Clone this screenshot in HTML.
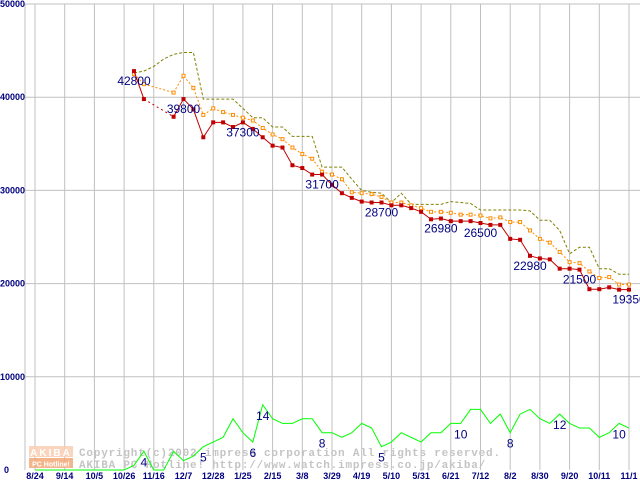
<!DOCTYPE html>
<html><head><meta charset="utf-8"><style>
html,body{margin:0;padding:0;background:#fff;}
svg{display:block;}
</style></head><body>
<svg id="chart" width="640" height="480" xmlns="http://www.w3.org/2000/svg" font-family="'Liberation Sans', sans-serif">
<g id="grid"></g>
<g id="watermark">
  <rect x="29" y="446" width="44" height="11" fill="#f9cdb0" opacity="0.85"/>
  <rect x="29" y="458" width="44" height="10" fill="#f3a878" opacity="0.85"/>
  <text x="51" y="456" text-anchor="middle" font-size="10" font-weight="bold" fill="#fff" letter-spacing="2" font-family="'Liberation Sans', sans-serif">AKIBA</text>
  <text x="51" y="466.5" text-anchor="middle" font-size="7" font-weight="bold" fill="#fff" font-family="'Liberation Sans', sans-serif">PC Hotline!</text>
  <text x="79" y="456" font-size="11" font-weight="bold" fill="#c4c4c4" letter-spacing="0.8" font-family="'Liberation Mono', monospace">Copyright(c)2002 impress corporation All rights reserved.</text>
  <text x="79" y="468" font-size="11" font-weight="bold" fill="#c4c4c4" letter-spacing="0.8" font-family="'Liberation Mono', monospace">AKIBA PC Hotline! http://www.watch.impress.co.jp/akiba/</text>
</g>
<g id="series"></g>
<g id="labels"></g>
</svg>
<script>
const xLabels = ["8/24","9/14","10/5","10/26","11/16","12/7","12/28","1/25","2/15","3/8","3/29","4/19","5/10","5/31","6/21","7/12","8/2","8/30","9/20","10/11","11/1"];
const yTicks = [0,10000,20000,30000,40000,50000];
const priceStart = 10;
const minPrice = [42800,39800,null,null,37900,39800,38700,35700,37300,37300,36800,37300,36600,35700,34800,34600,32700,32400,31700,31700,30600,29700,29200,28800,28700,28700,28400,28400,28100,27700,26900,26980,26700,26700,26700,26500,26300,26300,24800,24700,22980,22700,22600,21600,21600,21500,19400,19400,19600,19350,19350];
const avgPrice = [42500,41400,null,null,40500,42300,41000,38100,38800,38400,38100,37800,37500,36700,36000,35500,34600,33900,33400,32000,31700,31200,29800,29700,29600,29300,28700,28700,28400,28100,27700,27700,27600,27400,27400,27300,27000,27100,26600,26600,25700,24800,24400,23400,22300,22200,21300,20600,20700,19900,19900];
const maxPrice = [42600,42800,43300,44100,44600,44800,44800,39800,39800,39800,39800,38800,37800,37800,36800,36800,35800,35800,35800,32500,32500,32500,31200,30000,29800,29700,28700,29700,28500,28500,28500,28500,28800,28700,28600,27900,27900,27900,27900,27900,27800,26800,26800,25700,23200,23900,23900,21600,21600,21000,21000];
const shopCount = [0,0,0,0,0,0,0,0,0,0,1,4,0,0,4,2,3,5,6,7,11,8,6,14,11,10,10,11,11,8,8,7,8,10,9,5,6,8,7,6,8,8,10,10,13,13,10,12,8,12,13,11,10,12,10,9,9,7,8,10,9];
const priceLabelWeeks = [10,15,21,29,35,41,45,50,55,60];
const countLabelWeeks = [11,17,22,23,29,35,43,48,53,59];
const countScale = 500;

const NS = "http://www.w3.org/2000/svg";
const X0 = 35, XW = 9.9, Y0 = 470, YTOP = 4, YMAX = 50000;
function xPos(w){ return X0 + w*XW; }
function yPos(v){ return Y0 - v*(Y0-YTOP)/YMAX; }
function mk(tag, attrs, parent){
  const e = document.createElementNS(NS, tag);
  for (const k in attrs) e.setAttribute(k, attrs[k]);
  parent.appendChild(e); return e;
}
const grid = document.getElementById('grid');
const series = document.getElementById('series');
const labels = document.getElementById('labels');

yTicks.forEach(t => {
  const y = yPos(t);
  if (t > 0) {
    const l = mk('line', {x1:25, x2:640, y1:y, y2:y, stroke:'#c0c0c0', 'stroke-width':1}, grid);
    
    
  }
  const tx = mk('text', {x: t===0 ? 9 : 25, y: y+3, 'text-anchor':'end', 'font-size':9, 'font-weight':'bold', fill:'#000080'}, labels);
  tx.textContent = String(t);
  
  
});
const lb = mk('line', {x1:25, x2:25, y1:YTOP, y2:Y0, stroke:'#c0c0c0', 'stroke-width':1}, grid);


xLabels.forEach((lab, i) => {
  const x = xPos(i*3);
  const l = mk('line', {x1:x, x2:x, y1:YTOP, y2:Y0, stroke:'#c0c0c0', 'stroke-width':1}, grid);
  
  
  const tx = mk('text', {x:x, y:479, 'text-anchor':'middle', 'font-size':9, 'font-weight':'bold', fill:'#000080'}, labels);
  tx.textContent = lab;
  
  
});

function buildPath(arr, start, scale){
  const gaps = [];
  let prev = null, broken = false, d = '';
  arr.forEach((v, i) => {
    if (v === null) { broken = true; return; }
    const x = xPos(start+i), y = yPos(v*scale);
    if (prev && broken) { gaps.push([prev, [x,y]]); d += 'M'+x+','+y; }
    else d += (prev ? 'L' : 'M') + x + ',' + y;
    prev = [x,y]; broken = false;
  });
  return {d, gaps};
}

let p = buildPath(maxPrice, priceStart, 1);
const mx = mk('path', {d:p.d, fill:'none', stroke:'#808000', 'stroke-width':1, 'stroke-dasharray':'3,2'}, series);



p = buildPath(avgPrice, priceStart, 1);
const av = mk('path', {d:p.d, fill:'none', stroke:'#ff8c00', 'stroke-width':1, 'stroke-dasharray':'2,2'}, series);


p.gaps.forEach(g => {
  const gl = mk('line', {x1:g[0][0], y1:g[0][1], x2:g[1][0], y2:g[1][1], stroke:'#ff8c00', 'stroke-dasharray':'2,2'}, series);
  
  
});
avgPrice.forEach((v, i) => {
  if (v === null) return;
  const r = mk('rect', {x:xPos(priceStart+i)-1.5, y:yPos(v)-1.5, width:3, height:3, fill:'#fff', stroke:'#ff8c00', 'stroke-width':1}, series);
  
  
});

p = buildPath(minPrice, priceStart, 1);
const mn = mk('path', {d:p.d, fill:'none', stroke:'#c00000', 'stroke-width':1}, series);


p.gaps.forEach(g => {
  const gl = mk('line', {x1:g[0][0], y1:g[0][1], x2:g[1][0], y2:g[1][1], stroke:'#c00000', 'stroke-dasharray':'2,3'}, series);
  
  
});
minPrice.forEach((v, i) => {
  if (v === null) return;
  const r = mk('rect', {x:xPos(priceStart+i)-2, y:yPos(v)-2, width:4, height:4, fill:'#c00000'}, series);
  
  
});

p = buildPath(shopCount, 0, countScale);
const gc = mk('path', {d:p.d, fill:'none', stroke:'#00ff00', 'stroke-width':1}, series);



priceLabelWeeks.forEach(w => {
  const v = minPrice[w-priceStart];
  const t = mk('text', {x:xPos(w), y:yPos(v)+14, 'text-anchor':'middle', 'font-size':12, fill:'#000080'}, labels);
  t.textContent = String(v);
  
  
});
countLabelWeeks.forEach(w => {
  const v = shopCount[w];
  const t = mk('text', {x:xPos(w), y:yPos(v*countScale)+15, 'text-anchor':'middle', 'font-size':12, fill:'#000080'}, labels);
  t.textContent = String(v);
  
  
});
</script>
</body></html>
